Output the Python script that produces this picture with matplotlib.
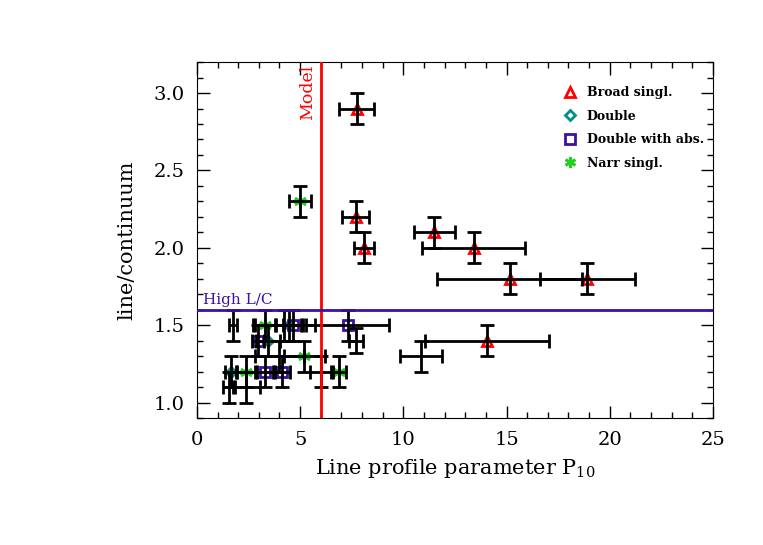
import numpy as np
import matplotlib
matplotlib.use("Agg")
import matplotlib.pyplot as plt
from matplotlib.lines import Line2D
from matplotlib.ticker import MultipleLocator

plt.rcParams['font.family'] = ['DejaVu Serif']
plt.rcParams['mathtext.fontset'] = 'dejavuserif'

# Broad single-peaked (red triangles)
broad_x = [7.75, 7.7, 8.1, 11.5, 13.4, 15.15, 18.9, 14.05]
broad_y = [2.9, 2.2, 2.0, 2.1, 2.0, 1.8, 1.8, 1.4]
broad_xe = [0.85, 0.65, 0.5, 1.0, 2.5, 3.5, 2.3, 3.0]
broad_ye = [0.1, 0.1, 0.1, 0.1, 0.1, 0.1, 0.1, 0.1]

# Double (teal diamonds)
dbl_x = [4.45, 3.45, 1.65]
dbl_y = [1.5, 1.4, 1.2]
dbl_xe = [0.6, 0.6, 0.3]
dbl_ye = [0.1, 0.1, 0.1]

# Double with absorption (indigo squares)
dabs_x = [4.65, 7.3, 2.95, 3.3, 4.1]
dabs_y = [1.5, 1.5, 1.4, 1.2, 1.2]
dabs_xe = [0.5, 2.0, 0.3, 0.5, 0.4]
dabs_ye = [0.1, 0.1, 0.1, 0.1, 0.1]

# Narrow single-peaked (green stars)
narr_x = [5.0, 3.3, 5.2, 2.4, 6.9]
narr_y = [2.3, 1.5, 1.3, 1.2, 1.2]
narr_xe = [0.55, 0.5, 1.0, 0.5, 0.3]
narr_ye = [0.1, 0.1, 0.1, 0.1, 0.1]

# unclassified (bare crosses)
oth_x = [1.75, 4.2, 7.7, 10.85, 6.0, 4.0, 1.55, 2.4]
oth_y = [1.5, 1.5, 1.4, 1.3, 1.2, 1.3, 1.1, 1.1]
oth_xe = [0.2, 1.5, 0.35, 1.0, 0.5, 1.2, 0.3, 0.65]
oth_ye = [0.1, 0.1, 0.08, 0.1, 0.1, 0.1, 0.1, 0.1]

model_x = 6.0
high_lc = 1.6

red = '#ff0000'
teal = '#00908a'
indigo = '#3c10a0'
green = '#22d022'

fig = plt.figure(figsize=(7.63, 5.45), dpi=100)
ax = fig.add_axes([0.258, 0.233, 0.6765, 0.653])

ekw = dict(fmt='none', ecolor='black', elinewidth=2, capsize=5, capthick=2, zorder=3)

groups = [
    (broad_x, broad_y, broad_xe, broad_ye, '^', red, 7.5),
    (dbl_x, dbl_y, dbl_xe, dbl_ye, 'D', teal, 5.5),
    (dabs_x, dabs_y, dabs_xe, dabs_ye, 's', indigo, 7),
    (narr_x, narr_y, narr_xe, narr_ye, '*', green, 9),
]
for gx, gy, gxe, gye, m, c, ms in groups:
    if m == '*':
        ax.plot(gx, gy, ls='none', marker=(6, 2, 0), color=c, ms=ms, mew=2, zorder=2)
    else:
        ax.plot(gx, gy, ls='none', marker=m, mfc='none', mec=c, ms=ms, mew=2, zorder=2)
    ax.errorbar(gx, gy, xerr=gxe, yerr=gye, **ekw)

ax.errorbar(oth_x, oth_y, xerr=oth_xe, yerr=oth_ye, **ekw)

ax.axvline(model_x, color=red, lw=2, zorder=4)
ax.axhline(high_lc, color=indigo, lw=2, zorder=4)
ax.text(model_x - 0.22, 3.18, 'Model', color=red, rotation=90, ha='right', va='top', fontsize=12.5)
ax.text(0.3, high_lc + 0.02, 'High L/C', color=indigo, ha='left', va='bottom', fontsize=11)

ax.set_xlim(0, 25)
ax.set_ylim(0.9, 3.2)
ax.xaxis.set_major_locator(MultipleLocator(5))
ax.xaxis.set_minor_locator(MultipleLocator(1))
ax.yaxis.set_major_locator(MultipleLocator(0.5))
ax.yaxis.set_minor_locator(MultipleLocator(0.1))
ax.tick_params(which='both', direction='in', top=True, right=True, labelsize=14, width=1)
ax.tick_params(which='major', length=9, pad=9)
ax.tick_params(which='minor', length=4.5)
ax.set_yticks([1.0, 1.5, 2.0, 2.5, 3.0])
ax.set_yticklabels(['1.0', '1.5', '2.0', '2.5', '3.0'])

ax.set_xlabel('Line profile parameter P$_{\\rm 10}$', fontsize=15, labelpad=6)
ax.set_ylabel('line/continuum', fontsize=15, labelpad=12)

handles = [
    Line2D([], [], ls='none', marker='^', mfc='none', mec=red, ms=7.5, mew=2),
    Line2D([], [], ls='none', marker='D', mfc='none', mec=teal, ms=5.5, mew=2),
    Line2D([], [], ls='none', marker='s', mfc='none', mec=indigo, ms=7, mew=2),
    Line2D([], [], ls='none', marker=(6, 2, 0), color=green, ms=8, mew=2),
]
labels = ['Broad singl.', 'Double', 'Double with abs.', 'Narr singl.']
ax.legend(handles, labels, loc='upper right', bbox_to_anchor=(1.028, 1.0), frameon=False,
          prop={'size': 9, 'weight': 'bold'}, handlelength=1.0, handletextpad=0.8,
          labelspacing=0.85, borderaxespad=1.5)

fig.savefig('out.png', dpi=100)
